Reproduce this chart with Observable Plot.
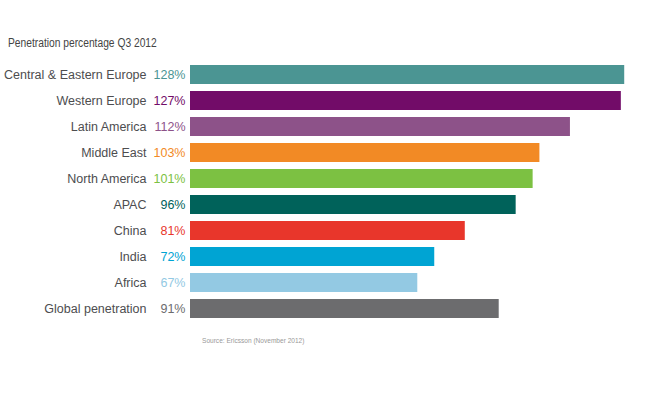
<!DOCTYPE html>
<html>
<head>
<meta charset="utf-8">
<script src="https://cdn.jsdelivr.net/npm/d3@7"></script>
<script src="https://cdn.jsdelivr.net/npm/@observablehq/plot@0.6"></script>
<style>
  html, body { margin: 0; padding: 0; background: #fff; }
  #wrap { width: 653px; height: 398px; position: relative; overflow: hidden; }
  #title { font-family: "Liberation Sans", Arial, sans-serif; font-size: 12.5px; line-height: 14px; color: #444; padding: 36px 0 0 8px; height: 14px; }
  #title span, #caption span { display: inline-block; transform: scaleX(0.82); transform-origin: left center; white-space: nowrap; }
  #caption { font-family: "Liberation Sans", Arial, sans-serif; font-size: 8px; line-height: 10px; color: #999; padding: 6px 0 0 202px; }
  svg { display: block; }
</style>
</head>
<body>
<div id="wrap">
  <div id="title"><span>Penetration percentage Q3 2012</span></div>
  <div id="chart"></div>
  <div id="caption"><span>Source: Ericsson (November 2012)</span></div>
</div>
<script>
const regions = ["Central & Eastern Europe", "Western Europe", "Latin America", "Middle East", "North America", "APAC", "China", "India", "Africa", "Global penetration"];
const penetration = [128, 127, 112, 103, 101, 96, 81, 72, 67, 91];
const colors = ["#4b9593", "#720c68", "#8d5289", "#f28a25", "#7cc142", "#00625a", "#e8362b", "#00a4d3", "#93c9e3", "#6c6c6e"];

const data = regions.map((r, i) => ({region: r, value: penetration[i], color: colors[i]}));

const chart = Plot.plot({
  width: 653,
  height: 280,
  marginTop: 12,
  marginBottom: 10,
  marginLeft: 190,
  marginRight: 22,
  x: {domain: [0, 130], axis: null},
  y: {domain: regions, axis: null, paddingInner: 0.27, paddingOuter: 0},
  style: {fontFamily: "'Liberation Sans', Arial, sans-serif", background: "#fff"},
  marks: [
    Plot.barX(data, {x: "value", y: "region", fill: "color"}),
    Plot.text(data, {x: 0, y: "region", text: "region", textAnchor: "end", dx: -44, fill: "#4d4d4f", fontSize: 12.5}),
    Plot.text(data, {x: 0, y: "region", text: d => d.value + "%", textAnchor: "end", dx: -5, fill: "color", fontSize: 12.5})
  ]
});
document.getElementById("chart").appendChild(chart);
</script>
</body>
</html>
